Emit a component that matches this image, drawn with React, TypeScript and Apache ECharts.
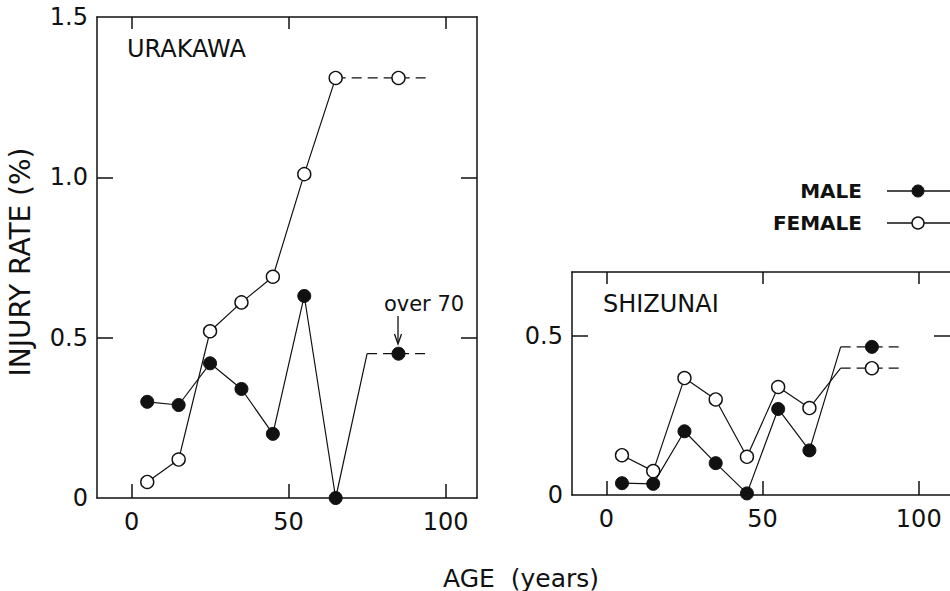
import React, { useEffect, useRef } from "react";
import * as echarts from "echarts";

// Age-group midpoints (years)
const ages = [5, 15, 25, 35, 45, 55, 65];
const over70Age = 85;
const stepAge = 75;
const dashEndAge = 95;
const xTicks = [0, 50, 100];

// URAKAWA injury rate (%)
const urakawaMale = [0.3, 0.29, 0.42, 0.34, 0.2, 0.63, 0.0];
const urakawaMaleOver70 = 0.45;
const urakawaFemale = [0.05, 0.12, 0.52, 0.61, 0.69, 1.01, 1.31];
const urakawaFemaleOver70 = 1.31;

// SHIZUNAI injury rate (%)
const shizunaiMale = [0.037, 0.035, 0.2, 0.1, 0.005, 0.27, 0.14];
const shizunaiMaleOver70 = 0.465;
const shizunaiFemale = [0.125, 0.075, 0.367, 0.3, 0.12, 0.339, 0.273];
const shizunaiFemaleOver70 = 0.398;

const uraYTicks = [0, 0.5, 1.0, 1.5];
const shiYTicks = [0, 0.5];

const INK = "#111";
const FONT = "DejaVu Sans";
const FRAME = { show: true, onZero: false, lineStyle: { color: INK, width: 1.5 } };

function makeSeries(
  name: string,
  gridIdx: number,
  values: number[],
  over70: number,
  male: boolean,
  dashFrom: number
) {
  const itemStyle = male
    ? { color: INK, borderColor: INK, borderWidth: 1 }
    : { color: "#fff", borderColor: INK, borderWidth: 1.4 };
  const lastAge = ages[ages.length - 1];
  const solid: any[] = ages.map((a, i) => [a, values[i]]);
  if (dashFrom > lastAge) {
    solid.push({ value: [dashFrom, over70], symbol: "none" });
  }
  const dashStartVal = dashFrom > lastAge ? over70 : values[values.length - 1];
  const dashed: any[] = [
    { value: [dashFrom, dashStartVal], symbol: "none" },
    [over70Age, over70],
    { value: [dashEndAge, over70], symbol: "none" },
  ];
  const common = {
    type: "line",
    name,
    xAxisIndex: gridIdx * 2,
    yAxisIndex: gridIdx * 2,
    symbol: "circle",
    symbolSize: 13,
    itemStyle,
    silent: true,
    z: male ? 3 : 2,
  };
  return [
    { ...common, data: solid, lineStyle: { color: INK, width: 1.2 } },
    { ...common, data: dashed, lineStyle: { color: INK, width: 1.2, type: [10, 6] } },
  ];
}

function xAxes(gridIndex: number) {
  return [
    {
      type: "value",
      gridIndex,
      position: "bottom",
      min: -11,
      max: 110,
      splitLine: { show: false },
      axisLine: FRAME,
      axisTick: {
        show: true,
        inside: true,
        length: 14,
        customValues: xTicks,
        lineStyle: { color: INK, width: 1.5 },
      },
      axisLabel: {
        show: true,
        customValues: xTicks,
        margin: 12,
        color: INK,
        fontFamily: FONT,
        fontSize: 24,
      },
    },
    {
      type: "value",
      gridIndex,
      position: "top",
      min: -11,
      max: 110,
      splitLine: { show: false },
      axisLine: FRAME,
      axisTick: {
        show: true,
        inside: true,
        length: 12,
        customValues: xTicks,
        lineStyle: { color: INK, width: 1.5 },
      },
      axisLabel: { show: false },
    },
  ];
}

function yAxes(gridIndex: number, max: number, ticks: number[], rightLine: boolean) {
  const inner = ticks.filter((t) => t > 0 && t < max);
  return [
    {
      type: "value",
      gridIndex,
      position: "left",
      min: 0,
      max,
      splitLine: { show: false },
      axisLine: FRAME,
      axisTick: {
        show: true,
        inside: true,
        length: 16,
        customValues: inner,
        lineStyle: { color: INK, width: 1.5 },
      },
      axisLabel: {
        show: true,
        customValues: ticks,
        margin: 9,
        color: INK,
        fontFamily: FONT,
        fontSize: 24,
        formatter: (v: number) => (v === 0 ? "0" : v.toFixed(1)),
      },
    },
    {
      type: "value",
      gridIndex,
      position: "right",
      min: 0,
      max,
      splitLine: { show: false },
      axisLine: rightLine ? FRAME : { show: false, onZero: false },
      axisTick: {
        show: true,
        inside: true,
        length: 16,
        customValues: inner,
        lineStyle: { color: INK, width: 1.5 },
      },
      axisLabel: { show: false },
    },
  ];
}

export default function App() {
  const ref = useRef<HTMLDivElement>(null);
  useEffect(() => {
    if (!ref.current) return;
    const chart = echarts.init(ref.current, null, { renderer: "svg" });
    const xs = [...xAxes(0), ...xAxes(1)];
    const ys = [...yAxes(0, 1.5, uraYTicks, true), ...yAxes(1, 0.7, shiYTicks, false)];
    const series = [
      ...makeSeries("FEMALE", 0, urakawaFemale, urakawaFemaleOver70, false, 65),
      ...makeSeries("MALE", 0, urakawaMale, urakawaMaleOver70, true, stepAge),
      ...makeSeries("FEMALE", 1, shizunaiFemale, shizunaiFemaleOver70, false, stepAge),
      ...makeSeries("MALE", 1, shizunaiMale, shizunaiMaleOver70, true, stepAge),
    ];
    const txt = (text: string, x: number, y: number, size: number, extra: any = {}) => ({
      type: "text",
      x,
      y,
      silent: true,
      style: {
        text,
        fill: INK,
        font: `${extra.weight || "normal"} ${size}px '${FONT}'`,
        align: extra.align || "left",
        verticalAlign: "middle",
      },
      ...(extra.rotation ? { rotation: extra.rotation } : {}),
    });
    chart.setOption({
      animation: false,
      backgroundColor: "#fff",
      grid: [
        { left: 97, top: 17, width: 380, height: 481, show: false },
        { left: 572, top: 272, width: 378, height: 223, show: false },
      ],
      xAxis: xs,
      yAxis: ys,
      series,
      graphic: [
        txt("URAKAWA", 127, 49, 24),
        txt("SHIZUNAI", 603, 304, 24),
        txt("INJURY RATE (%)", 20, 262, 28, { align: "center", rotation: Math.PI / 2 }),
        txt("AGE  (years)", 521, 578, 25, { align: "center" }),
        txt("over 70", 424, 304, 21, { align: "center" }),
        { type: "line", silent: true, shape: { x1: 398, y1: 316, x2: 398, y2: 343 }, style: { stroke: INK, lineWidth: 1.3 } },
        { type: "polyline", silent: true, shape: { points: [[394.5, 334], [398, 344], [401.5, 334]] }, style: { stroke: INK, lineWidth: 1.3, fill: null } },
        // legend
        txt("MALE", 862, 191, 20, { align: "right", weight: "bold" }),
        txt("FEMALE", 862, 223, 20, { align: "right", weight: "bold" }),
        { type: "line", silent: true, shape: { x1: 887, y1: 191, x2: 952, y2: 191 }, style: { stroke: INK, lineWidth: 1.3 } },
        { type: "circle", silent: true, shape: { cx: 918, cy: 191, r: 6 }, style: { fill: INK, stroke: INK, lineWidth: 1 } },
        { type: "line", silent: true, shape: { x1: 887, y1: 223, x2: 952, y2: 223 }, style: { stroke: INK, lineWidth: 1.3 } },
        { type: "circle", silent: true, shape: { cx: 918, cy: 223, r: 6 }, style: { fill: "#fff", stroke: INK, lineWidth: 1.4 } },
      ],
    });
    return () => chart.dispose();
  }, []);
  return (
    <div
      ref={ref}
      style={{ position: "fixed", left: 0, top: 0, width: 950, height: 591, background: "#fff" }}
    />
  );
}
